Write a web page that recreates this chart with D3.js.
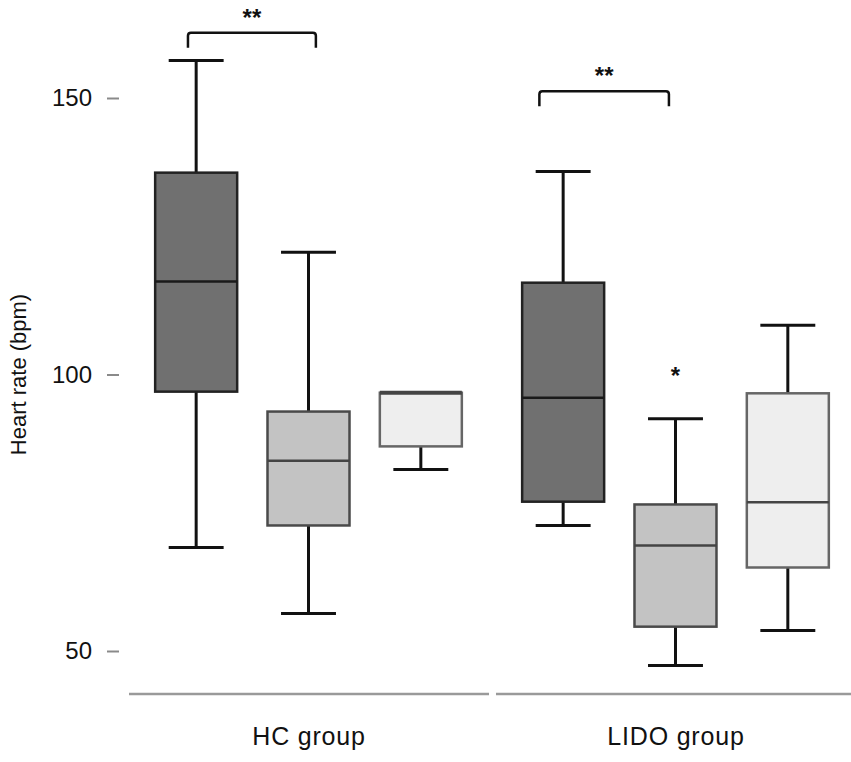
<!DOCTYPE html>
<html>
<head>
<meta charset="utf-8">
<script src="https://cdn.jsdelivr.net/npm/d3@7"></script>
<style>
  body { margin: 0; background: #fff; }
  svg { font-family: "Liberation Sans", Arial, sans-serif; }
</style>
</head>
<body>
<div id="chart"></div>
<script>
// groups and conditions
const groups = ["HC group", "LIDO group"];
const conditions = ["c1", "c2", "c3"];

// box stats per group, one entry per condition
const hcStats = [
  { lo: 68.7, q1: 96.9, med: 116.8, q3: 136.5, hi: 156.8 },
  { lo: 56.8, q1: 72.7, med: 84.4, q3: 93.3, hi: 122.1 },
  { lo: 82.8, q1: 87.0, med: 96.7, q3: 96.7, hi: 96.7 }
];
const lidoStats = [
  { lo: 72.7, q1: 77.0, med: 95.8, q3: 116.6, hi: 136.7 },
  { lo: 47.4, q1: 54.4, med: 69.1, q3: 76.5, hi: 92.0 },
  { lo: 53.7, q1: 65.1, med: 76.9, q3: 96.6, hi: 108.9 }
];
const outliers = [{ group: "LIDO group", cond: "c2", value: 100.7 }];

// significance brackets
const brackets = [
  { group: "HC group", from: "c1", to: "c2", level: 161.8, label: "**" },
  { group: "LIDO group", from: "c1", to: "c2", level: 151.2, label: "**" }
];

const yTicks = [50, 100, 150];
const yLabel = "Heart rate (bpm)";

const fills = ["#707070", "#c3c3c3", "#eeeeee"];
const strokes = ["#222", "#4a4a4a", "#666"];

const W = 851, H = 762;

const svg = d3.select("#chart").append("svg")
  .attr("width", W)
  .attr("height", H);

const y = d3.scaleLinear([50, 150], [651, 98]);

const x0 = d3.scaleBand(groups, [129, 856]).paddingInner(0.019);
const x1 = d3.scaleBand(conditions, [11, 348]).paddingInner(0.27).paddingOuter(0.135);
const bw = x1.bandwidth();

// y axis, detached ticks
const yAxis = d3.axisLeft(y).tickValues(yTicks).tickSize(12).tickPadding(15);
const yAxisG = svg.append("g")
  .attr("transform", "translate(119,0)")
  .call(yAxis);
yAxisG.select(".domain").remove();
yAxisG.selectAll(".tick line").attr("stroke", "#8a8a8a").attr("stroke-width", 2);
yAxisG.selectAll(".tick text")
  .attr("fill", "#111")
  .style("font-size", "24px")
  .style("font-family", "Liberation Sans, Arial, sans-serif");

svg.append("text")
  .attr("transform", `translate(26,${y(100)}) rotate(-90)`)
  .attr("text-anchor", "middle")
  .style("font-size", "22px")
  .attr("fill", "#111")
  .text(yLabel);

// group baseline lines and labels
const groupG = svg.selectAll(".grp")
  .data(groups)
  .join("g")
  .attr("class", "grp")
  .attr("transform", d => `translate(${x0(d)},0)`);

groupG.append("line")
  .attr("x1", 0)
  .attr("x2", x0.bandwidth())
  .attr("y1", 694)
  .attr("y2", 694)
  .attr("stroke", "#9a9a9a")
  .attr("stroke-width", 2.5);

groupG.append("text")
  .attr("x", x0.bandwidth() / 2)
  .attr("y", 745)
  .attr("text-anchor", "middle")
  .style("font-size", "25px")
  .style("letter-spacing", "0.8px")
  .attr("fill", "#111")
  .text(d => d);

// boxes
const boxes = [];
[hcStats, lidoStats].forEach((stats, gi) => {
  stats.forEach((s, ci) => boxes.push({ group: groups[gi], cond: conditions[ci], ci, ...s }));
});

const capW = bw * 0.67;

const boxG = svg.selectAll(".box")
  .data(boxes)
  .join("g")
  .attr("class", "box")
  .attr("transform", d => `translate(${x0(d.group) + x1(d.cond)},0)`);

// whiskers
boxG.filter(d => d.hi > d.q3).append("line")
  .attr("x1", bw / 2).attr("x2", bw / 2)
  .attr("y1", d => y(d.hi)).attr("y2", d => y(d.q3))
  .attr("stroke", "#111").attr("stroke-width", 3);
boxG.filter(d => d.hi > d.q3).append("line")
  .attr("x1", (bw - capW) / 2).attr("x2", (bw + capW) / 2)
  .attr("y1", d => y(d.hi)).attr("y2", d => y(d.hi))
  .attr("stroke", "#111").attr("stroke-width", 3);

boxG.append("line")
  .attr("x1", bw / 2).attr("x2", bw / 2)
  .attr("y1", d => y(d.q1)).attr("y2", d => y(d.lo))
  .attr("stroke", "#111").attr("stroke-width", 3);
boxG.append("line")
  .attr("x1", (bw - capW) / 2).attr("x2", (bw + capW) / 2)
  .attr("y1", d => y(d.lo)).attr("y2", d => y(d.lo))
  .attr("stroke", "#111").attr("stroke-width", 3);

boxG.append("rect")
  .attr("x", 0)
  .attr("width", bw)
  .attr("y", d => y(d.q3))
  .attr("height", d => y(d.q1) - y(d.q3))
  .attr("fill", d => fills[d.ci])
  .attr("stroke", d => strokes[d.ci])
  .attr("stroke-width", 2.5);

boxG.append("line")
  .attr("x1", 0).attr("x2", bw)
  .attr("y1", d => y(d.med)).attr("y2", d => y(d.med))
  .attr("stroke", d => d.ci === 0 ? "#1a1a1a" : "#444")
  .attr("stroke-width", d => d.med === d.q3 ? 4 : 2.5);

// outliers
svg.selectAll(".outlier")
  .data(outliers)
  .join("text")
  .attr("class", "outlier")
  .attr("x", d => x0(d.group) + x1(d.cond) + bw / 2)
  .attr("y", d => y(d.value) + 13)
  .attr("text-anchor", "middle")
  .style("font-size", "24px")
  .style("font-weight", "bold")
  .attr("fill", "#111")
  .text("*");

// brackets
const bracketInset = [[0.40, 0.59], [0.21, 0.42]];
brackets.forEach((b, i) => {
  const xa = x0(b.group) + x1(b.from) + bw * bracketInset[i][0];
  const xb = x0(b.group) + x1(b.to) + bw * bracketInset[i][1];
  const yb = y(b.level);
  const leg = 15, r = 3;
  const path = d3.path();
  path.moveTo(xa, yb + leg);
  path.lineTo(xa, yb + r);
  path.quadraticCurveTo(xa, yb, xa + r, yb);
  path.lineTo(xb - r, yb);
  path.quadraticCurveTo(xb, yb, xb, yb + r);
  path.lineTo(xb, yb + leg);
  svg.append("path")
    .attr("d", path.toString())
    .attr("fill", "none")
    .attr("stroke", "#111")
    .attr("stroke-width", 2.5);
  svg.append("text")
    .attr("x", (xa + xb) / 2)
    .attr("y", yb - 7)
    .attr("text-anchor", "middle")
    .style("font-size", "24px")
    .style("font-weight", "bold")
    .attr("fill", "#111")
    .text(b.label);
});
</script>
</body>
</html>
